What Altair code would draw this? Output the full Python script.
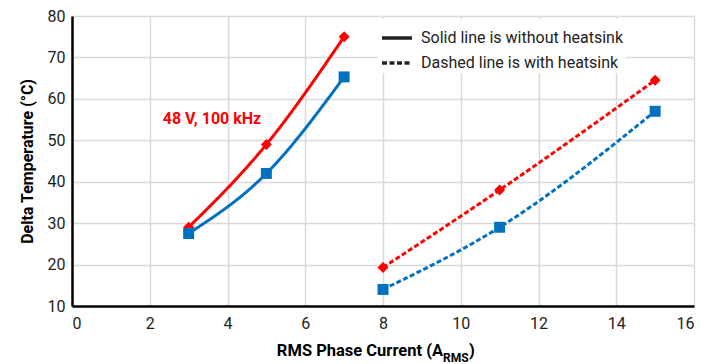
import altair as alt
import pandas as pd

# Data
red_solid_x = [3, 5, 7]
red_solid_y = [29, 49, 75]
blue_solid_x = [3, 5, 7]
blue_solid_y = [27.5, 42, 65.3]
red_dash_x = [8, 11, 15]
red_dash_y = [19.3, 38, 64.5]
blue_dash_x = [8, 11, 15]
blue_dash_y = [14, 29, 57]

x_ticks = [0, 2, 4, 6, 8, 10, 12, 14, 16]
y_ticks = [10, 20, 30, 40, 50, 60, 70, 80]

SOLID = "Solid line is without heatsink"
DASH = "Dashed line is with heatsink"

rows = []
for xs, ys, col, kind, key in [
    (red_solid_x, red_solid_y, "red", SOLID, "rs"),
    (blue_solid_x, blue_solid_y, "blue", SOLID, "bs"),
    (red_dash_x, red_dash_y, "red", DASH, "rd"),
    (blue_dash_x, blue_dash_y, "blue", DASH, "bd"),
]:
    for x, y in zip(xs, ys):
        rows.append({"x": x, "y": y, "color": col, "kind": kind, "series": key})
df = pd.DataFrame(rows)

FONT = "Roboto"

xscale = alt.Scale(domain=[0, 16], nice=False)
yscale = alt.Scale(domain=[10, 80], nice=False)
cscale = alt.Scale(domain=["red", "blue"], range=["#FF0000", "#0070C0"])

base = alt.Chart(df)

lines = base.mark_line(strokeWidth=3, interpolate="monotone").encode(
    x=alt.X("x:Q", scale=xscale,
            axis=alt.Axis(values=x_ticks, title=None, grid=True, ticks=False,
                          labelFontSize=16, labelFont=FONT, labelColor="#222",
                          domainColor="black", domainWidth=2.5, labelPadding=9,
                          gridColor="#d9d9d9", gridWidth=1.5)),
    y=alt.Y("y:Q", scale=yscale,
            axis=alt.Axis(values=y_ticks, title="Delta Temperature (°C)", grid=True, ticks=False,
                          labelFontSize=16, labelFont=FONT, labelColor="#222",
                          domainColor="black", domainWidth=2.5, labelPadding=7,
                          gridColor="#d9d9d9", gridWidth=1.5,
                          titleFont=FONT, titleFontSize=16, titleFontWeight="bold",
                          titleColor="black", titlePadding=12)),
    color=alt.Color("color:N", scale=cscale, legend=None),
    strokeDash=alt.StrokeDash(
        "kind:N",
        scale=alt.Scale(domain=[SOLID, DASH], range=[[1, 0], [5, 2.5]]),
        legend=alt.Legend(
            title=None, orient="none", legendX=306, legendY=3,
            symbolType="stroke", symbolStrokeColor="#222", symbolStrokeWidth=3.5,
            symbolSize=900, labelFont=FONT, labelFontSize=16, labelColor="#222",
            fillColor="white", padding=2, rowPadding=-5, labelOffset=7,
            labelLimit=400,
        ),
    ),
    detail="series:N",
)

points = base.mark_point(filled=True, size=120, opacity=1).encode(
    x="x:Q",
    y="y:Q",
    color=alt.Color("color:N", scale=cscale, legend=None),
    shape=alt.Shape("color:N", scale=alt.Scale(domain=["red", "blue"], range=["diamond", "square"]),
                    legend=None),
)

ann_df = pd.DataFrame({"x": [3.6], "y": [55.2], "t": ["48 V, 100 kHz"]})
ann = alt.Chart(ann_df).mark_text(
    font=FONT, fontSize=16, fontWeight="bold", color="#FF0000", baseline="middle", align="center"
).encode(x="x:Q", y="y:Q", text="t:N")

xt_main = alt.Chart(pd.DataFrame({"t": ["RMS Phase Current (A"]})).mark_text(
    font=FONT, fontSize=16.5, fontWeight="bold", color="black", align="right", baseline="alphabetic"
).encode(x=alt.value(371), y=alt.value(340), text="t:N")
xt_sub = alt.Chart(pd.DataFrame({"t": ["RMS"]})).mark_text(
    font=FONT, fontSize=12, fontWeight="bold", color="black", align="left", baseline="alphabetic"
).encode(x=alt.value(371), y=alt.value(346), text="t:N")
xt_close = alt.Chart(pd.DataFrame({"t": [")"]})).mark_text(
    font=FONT, fontSize=16.5, fontWeight="bold", color="black", align="left", baseline="alphabetic"
).encode(x=alt.value(397), y=alt.value(340), text="t:N")

chart = alt.layer(lines, points, ann, xt_main, xt_sub, xt_close).properties(
    width=622, height=290,
    autosize=alt.AutoSizeParams(type="none"),
    padding={"left": 64, "top": 8, "right": 10, "bottom": 60},
).configure_view(stroke="black", strokeWidth=2.5).configure(background="white")

chart.save("out.html", embed_options={"renderer": "svg", "actions": False})
